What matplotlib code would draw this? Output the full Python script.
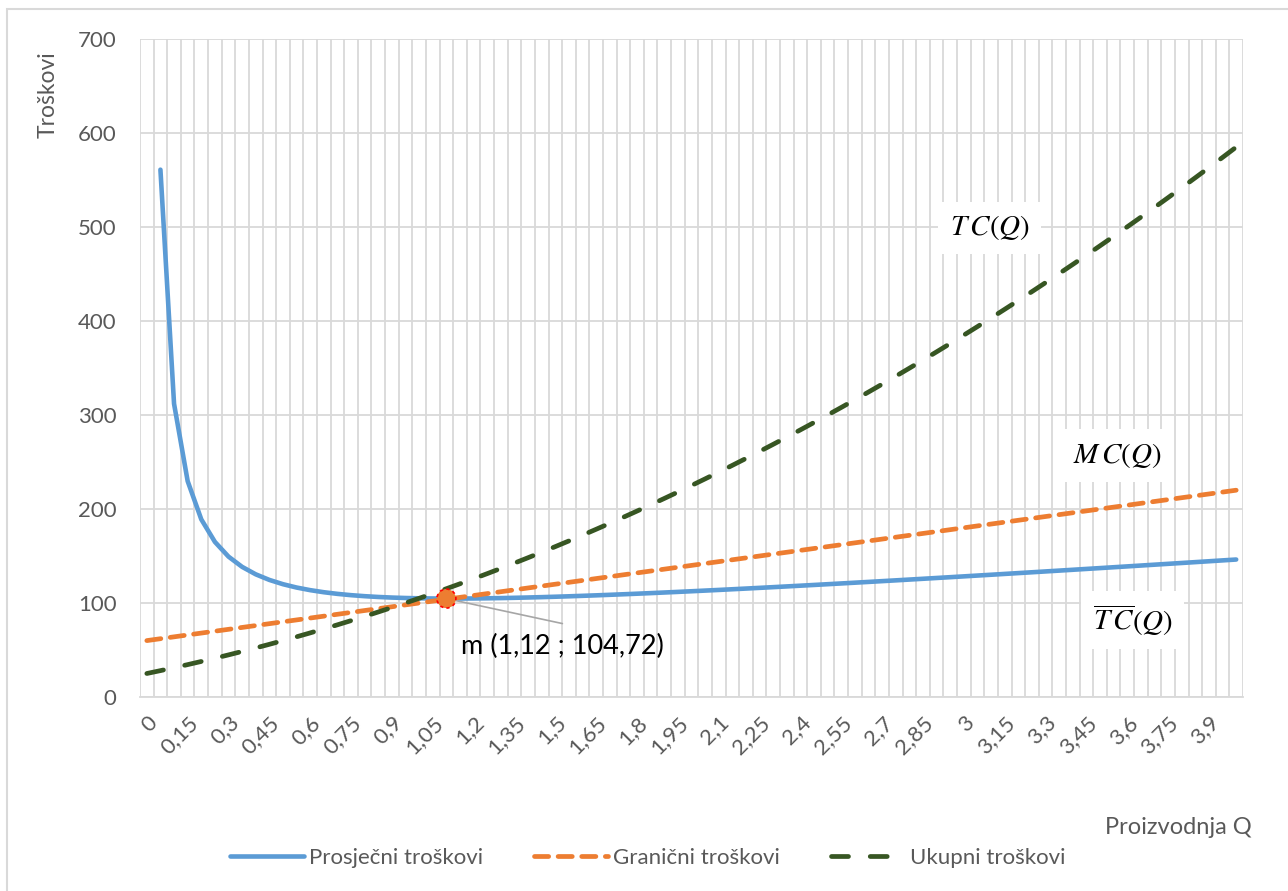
"""Average, marginal and total cost curves (Excel-style recreation)."""
import matplotlib
matplotlib.use("Agg")
import matplotlib.pyplot as plt
import numpy as np
from matplotlib.lines import Line2D
from matplotlib.patches import Rectangle

plt.rcParams["font.family"] = ["Lato", "DejaVu Sans"]
plt.rcParams["mathtext.fontset"] = "stix"

# production quantity categories
q_vals = [0, 0.05, 0.1, 0.15, 0.2, 0.25, 0.3, 0.35, 0.4, 0.45,
          0.5, 0.55, 0.6, 0.65, 0.7, 0.75, 0.8, 0.85, 0.9, 0.95,
          1, 1.05, 1.1, 1.15, 1.2, 1.25, 1.3, 1.35, 1.4, 1.45,
          1.5, 1.55, 1.6, 1.65, 1.7, 1.75, 1.8, 1.85, 1.9, 1.95,
          2, 2.05, 2.1, 2.15, 2.2, 2.25, 2.3, 2.35, 2.4, 2.45,
          2.5, 2.55, 2.6, 2.65, 2.7, 2.75, 2.8, 2.85, 2.9, 2.95,
          3, 3.05, 3.1, 3.15, 3.2, 3.25, 3.3, 3.35, 3.4, 3.45,
          3.5, 3.55, 3.6, 3.65, 3.7, 3.75, 3.8, 3.85, 3.9, 3.95, 4]

# average cost (no value at Q = 0)
avg_cost = [np.nan, 561, 312, 229.67, 189, 165, 149.33, 138.43, 130.5, 124.56,
            120, 116.45, 113.67, 111.46, 109.71, 108.33, 107.25, 106.41, 105.78, 105.32,
            105, 104.81, 104.73, 104.74, 104.83, 105, 105.23, 105.52, 105.86, 106.24,
            106.67, 107.13, 107.63, 108.15, 108.71, 109.29, 109.89, 110.51, 111.16, 111.82,
            112.5, 113.2, 113.9, 114.63, 115.36, 116.11, 116.87, 117.64, 118.42, 119.2,
            120, 120.8, 121.62, 122.43, 123.26, 124.09, 124.93, 125.77, 126.62, 127.47,
            128.33, 129.2, 130.06, 130.94, 131.81, 132.69, 133.58, 134.46, 135.35, 136.25,
            137.14, 138.04, 138.94, 139.85, 140.76, 141.67, 142.58, 143.49, 144.41, 145.33, 146.25]

marg_cost = [60, 62, 64, 66, 68, 70, 72, 74, 76, 78,
             80, 82, 84, 86, 88, 90, 92, 94, 96, 98,
             100, 102, 104, 106, 108, 110, 112, 114, 116, 118,
             120, 122, 124, 126, 128, 130, 132, 134, 136, 138,
             140, 142, 144, 146, 148, 150, 152, 154, 156, 158,
             160, 162, 164, 166, 168, 170, 172, 174, 176, 178,
             180, 182, 184, 186, 188, 190, 192, 194, 196, 198,
             200, 202, 204, 206, 208, 210, 212, 214, 216, 218, 220]

total_cost = [25, 28.05, 31.2, 34.45, 37.8, 41.25, 44.8, 48.45, 52.2, 56.05,
              60, 64.05, 68.2, 72.45, 76.8, 81.25, 85.8, 90.45, 95.2, 100.05,
              105, 110.05, 115.2, 120.45, 125.8, 131.25, 136.8, 142.45, 148.2, 154.05,
              160, 166.05, 172.2, 178.45, 184.8, 191.25, 197.8, 204.45, 211.2, 218.05,
              225, 232.05, 239.2, 246.45, 253.8, 261.25, 268.8, 276.45, 284.2, 292.05,
              300, 308.05, 316.2, 324.45, 332.8, 341.25, 349.8, 358.45, 367.2, 376.05,
              385, 394.05, 403.2, 412.45, 421.8, 431.25, 440.8, 450.45, 460.2, 470.05,
              480, 490.05, 500.2, 510.45, 520.8, 531.25, 541.8, 552.45, 563.2, 574.05, 585]

min_idx = 22          # category where the minimum point is drawn
min_label = "m (1,12 ; 104,72)"
min_value = 104.72

BLUE = "#5B9BD5"
ORANGE = "#ED7D31"
GREEN = "#375623"
GRID = "#D9D9D9"
TXT = "#595959"

W, H = 1288, 891
fig = plt.figure(figsize=(W / 100, H / 100), dpi=100)
ax = fig.add_axes([140 / W, 1 - 697 / H, (1243 - 140) / W, (697 - 39) / H])

x = np.arange(len(q_vals))
styles = {
    "avg": dict(color=BLUE, lw=3.3, solid_capstyle="round"),
    "mc": dict(color=ORANGE, lw=3.4, dashes=(3.0, 2.0), dash_capstyle="round"),
    "tc": dict(color=GREEN, lw=3.4, dashes=(3.6, 4.6), dash_capstyle="round"),
}
ax.plot(x, avg_cost, **styles["avg"], zorder=3)
ax.plot(x, marg_cost, **styles["mc"], zorder=3)
ax.plot(x, total_cost, **styles["tc"], zorder=3)

# minimum point of the average cost
ax.scatter([min_idx], [min_value], s=(19 * 0.72) ** 2, facecolor=ORANGE,
           edgecolor="red", linewidths=1.2, linestyle=(0, (2, 2)), zorder=5)
ax.annotate("", xy=(min_idx, min_value), xytext=(116, -25), textcoords="offset pixels",
            arrowprops=dict(arrowstyle="-", color="#A6A6A6", lw=1.2,
                            shrinkA=0, shrinkB=0), zorder=4)
ax.annotate(min_label, xy=(min_idx, min_value), xytext=(15, -48),
            textcoords="offset pixels", ha="left", va="center",
            fontsize=19.5, color="black", zorder=6)

# curve names
box = dict(boxstyle="square,pad=0.4", fc="white", ec="none")
ax.text(61.9, 499, r"$T\,C(Q)$", fontsize=21, ha="center", va="center", bbox=box, zorder=2)
ax.text(71.3, 257, r"$M\,C(Q)$", fontsize=21, ha="center", va="center", bbox=box, zorder=2)
ax.text(72.4, 82, r"$\overline{T\,C}(Q)$", fontsize=21, ha="center", va="center",
        bbox=box, zorder=2)

ax.set_xlim(-0.5, len(q_vals) - 0.5)
ax.set_ylim(0, 700)
ax.set_yticks(range(0, 701, 100))
ax.set_xticks(x[::3])
ax.set_xticklabels([f"{q:g}".replace(".", ",") for q in q_vals[::3]],
                   rotation=45, ha="right", va="top", rotation_mode="anchor")
ax.set_xticks(np.arange(-0.5, len(q_vals), 1), minor=True)
ax.grid(which="minor", axis="x", color=GRID, lw=1.3)
ax.grid(which="major", axis="y", color=GRID, lw=1.3)
ax.set_axisbelow(True)
ax.tick_params(axis="both", which="both", length=0, colors=TXT, labelsize=16)
ax.tick_params(axis="y", pad=17)
ax.tick_params(axis="x", pad=11)
for side in ("top", "right", "left"):
    ax.spines[side].set_visible(False)
ax.spines["bottom"].set_color(GRID)
ax.spines["bottom"].set_linewidth(1.3)

fig.text(48 / W, 1 - 95 / H, "Troškovi", rotation=90, ha="center", va="center",
         fontsize=16.5, color=TXT)
fig.text(1178 / W, 1 - 828 / H, "Proizvodnja Q", ha="center", va="center",
         fontsize=17, color=TXT)

handles = [Line2D([], [], **styles["avg"]),
           Line2D([], [], **styles["mc"]),
           Line2D([], [], **styles["tc"])]
fig.legend(handles, ["Prosječni troškovi", "Granični troškovi", "Ukupni troškovi"],
           loc="center", bbox_to_anchor=(648 / W, 1 - 858 / H), ncol=3, frameon=False,
           fontsize=16, labelcolor=TXT, handlelength=3.3, handletextpad=0.25,
           columnspacing=2.3)

fig.patches.append(Rectangle((7 / W, -0.05), 1.1, 1.05 - 9 / H, transform=fig.transFigure,
                             fill=False, ec=GRID, lw=1.5))

fig.savefig("out.png", dpi=100)
